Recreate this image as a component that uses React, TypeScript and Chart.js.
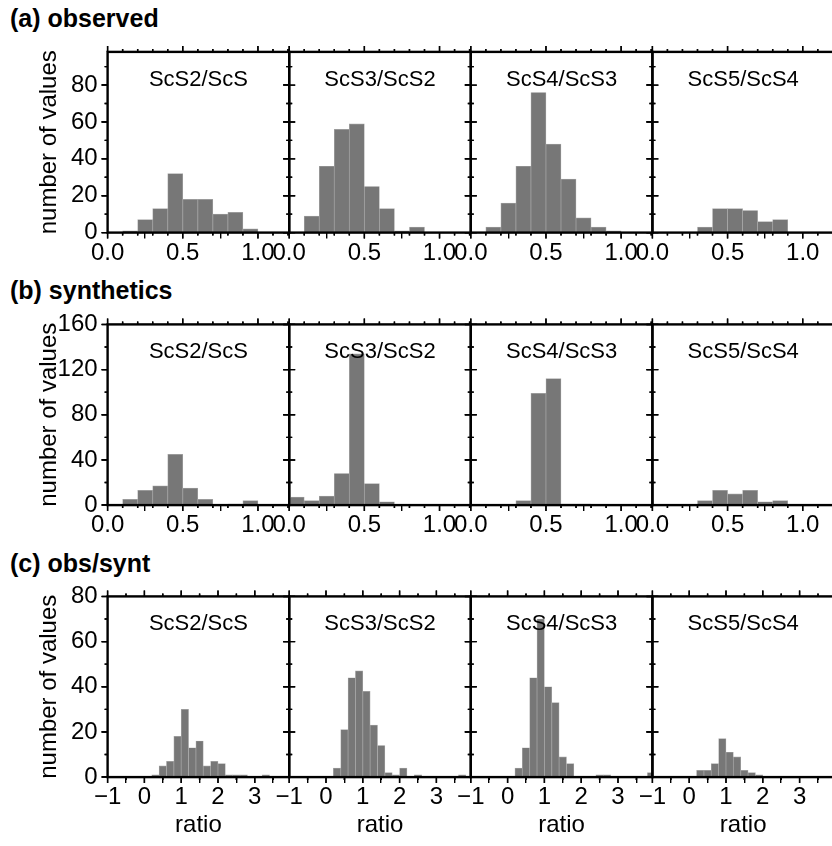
import React, { useEffect, useRef } from 'react';
import { Chart, registerables } from 'chart.js';

Chart.register(...registerables);

const FONT = '"Liberation Sans", Arial, Helvetica, sans-serif';

// ---------- data ----------
const PANEL_TITLES = ['ScS2/ScS', 'ScS3/ScS2', 'ScS4/ScS3', 'ScS5/ScS4'];

// bin centres (bin width 0.1) for rows (a) and (b)
const RATIO_BIN_CENTERS = [0.05, 0.15, 0.25, 0.35, 0.45, 0.55, 0.65, 0.75, 0.85, 0.95, 1.05, 1.15];
// bin centres (bin width 0.2) for row (c)
const OBS_SYNT_BIN_CENTERS = [
  -0.9, -0.7, -0.5, -0.3, -0.1, 0.1, 0.3, 0.5, 0.7, 0.9, 1.1, 1.3, 1.5,
  1.7, 1.9, 2.1, 2.3, 2.5, 2.7, 2.9, 3.1, 3.3, 3.5, 3.7, 3.9,
];

// (a) observed
const OBS_SCS2_SCS = [0, 1, 7, 13, 32, 18, 18, 10, 11, 2, 0, 0];
const OBS_SCS3_SCS2 = [0, 9, 36, 56, 59, 25, 13, 1, 3, 0, 0, 0];
const OBS_SCS4_SCS3 = [0, 3, 16, 36, 76, 48, 29, 8, 3, 1, 0, 0];
const OBS_SCS5_SCS4 = [0, 0, 0, 3, 13, 13, 12, 6, 7, 0, 0, 0];

// (b) synthetics
const SYN_SCS2_SCS = [0, 5, 13, 17, 45, 15, 5, 0, 1, 4, 0, 0];
const SYN_SCS3_SCS2 = [7, 4, 8, 28, 134, 19, 3, 0, 0, 0, 0, 0];
const SYN_SCS4_SCS3 = [0, 0, 0, 4, 99, 112, 1, 1, 0, 0, 0, 0];
const SYN_SCS5_SCS4 = [0, 0, 0, 4, 13, 10, 13, 3, 4, 0, 0, 0];

// (c) obs/synt
const RAT_SCS2_SCS = [0, 0, 0, 0, 0, 0, 1, 5, 7, 18, 30, 13, 16, 5, 7, 6, 1, 1, 1, 0, 0, 1, 0, 0, 0];
const RAT_SCS3_SCS2 = [0, 0, 0, 0, 0, 0, 4, 21, 44, 47, 38, 23, 14, 2, 1, 4, 0, 1, 0, 0, 0, 0, 0, 1, 0];
const RAT_SCS4_SCS3 = [0, 0, 0, 0, 0, 0, 4, 13, 44, 70, 40, 33, 9, 6, 0, 0, 0, 1, 1, 0, 0, 0, 0, 0, 2];
const RAT_SCS5_SCS4 = [0, 0, 0, 0, 0, 0, 3, 3, 6, 17, 11, 9, 3, 2, 1, 0, 0, 0, 0, 0, 0, 0, 0, 0, 0];

// tick labels
const OBS_Y_TICKS = [0, 20, 40, 60, 80];
const SYN_Y_TICKS = [0, 40, 80, 120, 160];
const RAT_Y_TICKS = [0, 20, 40, 60, 80];
const RATIO_X_TICKS = [0, 0.5, 1.0];
const OBS_SYNT_X_TICKS = [-1, 0, 1, 2, 3];

// ---------- layout / style ----------
const PANEL_LEFT0 = 107.6;
const PANEL_W = 181.6;
const PANEL_H = 180.7;
const BAR_FILL = '#777777';
const BAR_EDGE = '#a6a6a6';
const MAJOR_LEN = 6;
const MINOR_LEN = 3;

type RowSpec = {
  label: string;
  labelTop: number;
  top: number;
  yMax: number;
  yTicks: number[];
  yMinor: number;
  xMin: number;
  xMax: number;
  xTicks: number[];
  xMinor: number;
  fmt: (v: number) => string;
  centers: number[];
  series: number[][];
  xTitle?: string;
};

const fmtRatio = (v: number) => v.toFixed(1);
const fmtInt = (v: number) => (v < 0 ? '\u2212' + Math.abs(v) : String(v));

const ROWS: RowSpec[] = [
  {
    label: '(a) observed', labelTop: 5.5, top: 51.9,
    yMax: 98, yTicks: OBS_Y_TICKS, yMinor: 10,
    xMin: 0, xMax: 1.208, xTicks: RATIO_X_TICKS, xMinor: 0.1, fmt: fmtRatio,
    centers: RATIO_BIN_CENTERS,
    series: [OBS_SCS2_SCS, OBS_SCS3_SCS2, OBS_SCS4_SCS3, OBS_SCS5_SCS4],
  },
  {
    label: '(b) synthetics', labelTop: 278.3, top: 324.4,
    yMax: 160, yTicks: SYN_Y_TICKS, yMinor: 20,
    xMin: 0, xMax: 1.208, xTicks: RATIO_X_TICKS, xMinor: 0.1, fmt: fmtRatio,
    centers: RATIO_BIN_CENTERS,
    series: [SYN_SCS2_SCS, SYN_SCS3_SCS2, SYN_SCS4_SCS3, SYN_SCS5_SCS4],
  },
  {
    label: '(c) obs/synt', labelTop: 550.5, top: 596.4,
    yMax: 80, yTicks: RAT_Y_TICKS, yMinor: 10,
    xMin: -1, xMax: 3.935, xTicks: OBS_SYNT_X_TICKS, xMinor: 0.5, fmt: fmtInt,
    centers: OBS_SYNT_BIN_CENTERS,
    series: [RAT_SCS2_SCS, RAT_SCS3_SCS2, RAT_SCS4_SCS3, RAT_SCS5_SCS4],
    xTitle: 'ratio',
  },
];

function Panel({ row, col }: { row: RowSpec; col: number }) {
  const ref = useRef<HTMLCanvasElement>(null);
  const first = col === 0;
  const panelLeft = PANEL_LEFT0 + col * PANEL_W;
  const panelTop = row.top;
  const YW = first ? 80 : 10;
  const XH = row.xTitle ? 64 : 40;
  const MB = row.xTitle ? 68 : 44;
  const MT = 44;
  const cx = Math.floor(panelLeft - 105);
  const cy = Math.floor(panelTop - MT);
  const cw = Math.ceil(panelLeft + PANEL_W + 30) - cx;
  const ch = Math.ceil(panelTop + PANEL_H + MB) - cy;
  const pad = {
    left: panelLeft - cx - YW,
    top: panelTop - cy,
    right: cx + cw - (panelLeft + PANEL_W),
    bottom: cy + ch - (panelTop + PANEL_H) - XH,
  };

  useEffect(() => {
    const canvas = ref.current;
    if (!canvas) return;
    const title = PANEL_TITLES[col];
    const values = row.series[col];

    const drawTicks = (chart: any) => {
      const ctx = chart.ctx;
      const { left, right, top, bottom } = chart.chartArea;
      const xs = chart.scales.x;
      const ys = chart.scales.y;
      ctx.save();
      ctx.strokeStyle = '#000000';
      ctx.lineWidth = 1.4;
      ctx.setLineDash([]);
      const nX = Math.floor((row.xMax - row.xMin) / row.xMinor + 1e-6);
      for (let i = 0; i <= nX; i++) {
        const v = row.xMin + i * row.xMinor;
        const p = xs.getPixelForValue(v);
        const major = row.xTicks.some((t) => Math.abs(t - v) < 1e-6);
        const len = major ? MAJOR_LEN : MINOR_LEN;
        ctx.beginPath();
        ctx.moveTo(p, bottom);
        ctx.lineTo(p, bottom + len);
        ctx.moveTo(p, top);
        ctx.lineTo(p, top - len);
        ctx.stroke();
      }
      const nY = Math.floor(row.yMax / row.yMinor + 1e-6);
      for (let i = 0; i <= nY; i++) {
        const v = i * row.yMinor;
        const p = ys.getPixelForValue(v);
        const major = row.yTicks.some((t) => Math.abs(t - v) < 1e-6);
        const len = major ? MAJOR_LEN : MINOR_LEN;
        ctx.beginPath();
        ctx.moveTo(left, p);
        ctx.lineTo(left - len, p);
        ctx.moveTo(right, p);
        ctx.lineTo(right + len, p);
        ctx.stroke();
      }
      ctx.restore();
    };

    const framePlugin = {
      id: 'panelFrame',
      beforeDatasetsDraw(chart: any) {
        drawTicks(chart);
      },
      afterDraw(chart: any) {
        const ctx = chart.ctx;
        const { left, right, top, bottom } = chart.chartArea;
        drawTicks(chart);
        ctx.save();
        ctx.strokeStyle = '#000000';
        ctx.lineWidth = 2.4;
        ctx.strokeRect(left, top, right - left, bottom - top);
        ctx.fillStyle = '#000000';
        ctx.font = `22px ${FONT}`;
        ctx.textAlign = 'center';
        ctx.textBaseline = 'alphabetic';
        ctx.fillText(title, (left + right) / 2, top + 34);
        ctx.restore();
      },
    };

    const tickFont = { family: FONT, size: 24 };

    const chart = new Chart(canvas, {
      type: 'bar',
      data: {
        datasets: [
          {
            data: row.centers.map((c, i) => ({ x: c, y: values[i] })),
            backgroundColor: BAR_FILL,
            borderColor: BAR_EDGE,
            borderWidth: 0.7,
            barPercentage: 1,
            categoryPercentage: 1,
          } as any,
        ],
      },
      options: {
        animation: false,
        responsive: false,
        events: [],
        layout: { padding: pad },
        plugins: {
          legend: { display: false },
          tooltip: { enabled: false },
          title: { display: false },
        },
        scales: {
          x: {
            type: 'linear',
            position: 'bottom',
            min: row.xMin,
            max: row.xMax,
            bounds: 'data',
            offset: false,
            grid: {
              display: true,
              drawOnChartArea: false,
              drawTicks: true,
              tickLength: MAJOR_LEN,
              color: '#000000',
              tickColor: '#000000',
              tickWidth: 1.4,
              lineWidth: 1.4,
            },
            border: { display: false },
            afterBuildTicks: (s: any) => {
              s.ticks = row.xTicks.map((v) => ({ value: v }));
            },
            afterFit: (s: any) => {
              s.height = XH;
            },
            ticks: {
              autoSkip: false,
              maxRotation: 0,
              minRotation: 0,
              padding: 0,
              color: '#000',
              font: tickFont,
              callback: (v: any) => row.fmt(Number(v)),
            },
            title: row.xTitle
              ? {
                  display: true,
                  text: row.xTitle,
                  color: '#000',
                  font: tickFont,
                  padding: { top: 0, bottom: 1 },
                }
              : { display: false },
          },
          y: {
            type: 'linear',
            position: 'left',
            min: 0,
            max: row.yMax,
            bounds: 'data',
            grid: {
              display: true,
              drawOnChartArea: false,
              drawTicks: true,
              tickLength: MAJOR_LEN,
              color: '#000000',
              tickColor: '#000000',
              tickWidth: 1.4,
              lineWidth: 1.4,
            },
            border: { display: false },
            afterBuildTicks: (s: any) => {
              s.ticks = row.yTicks.map((v) => ({ value: v }));
            },
            afterFit: (s: any) => {
              s.width = YW;
            },
            ticks: {
              display: first,
              padding: 4,
              color: '#000',
              font: tickFont,
              callback: (v: any) => String(v),
            },
            title: first
              ? {
                  display: true,
                  text: 'number of values',
                  color: '#000',
                  font: tickFont,
                  padding: { top: 7, bottom: 0 },
                }
              : { display: false },
          },
        },
      } as any,
      plugins: [framePlugin],
    });
    return () => chart.destroy();
  }, []);

  return (
    <canvas
      ref={ref}
      width={cw}
      height={ch}
      style={{ position: 'absolute', left: cx, top: cy, width: cw, height: ch }}
    />
  );
}

export default function App() {
  return (
    <div
      style={{
        position: 'absolute',
        left: 0,
        top: 0,
        width: 832,
        height: 846,
        overflow: 'hidden',
        background: '#fff',
        fontFamily: FONT,
      }}
    >
      {ROWS.map((r) => (
        <div
          key={r.label}
          style={{
            position: 'absolute',
            left: 10,
            top: r.labelTop,
            fontSize: 25,
            lineHeight: '25px',
            fontWeight: 'bold',
            whiteSpace: 'nowrap',
            color: '#000',
          }}
        >
          {r.label}
        </div>
      ))}
      {ROWS.map((r, ri) =>
        [0, 1, 2, 3].map((c) => <Panel key={`${ri}-${c}`} row={r} col={c} />)
      )}
    </div>
  );
}
